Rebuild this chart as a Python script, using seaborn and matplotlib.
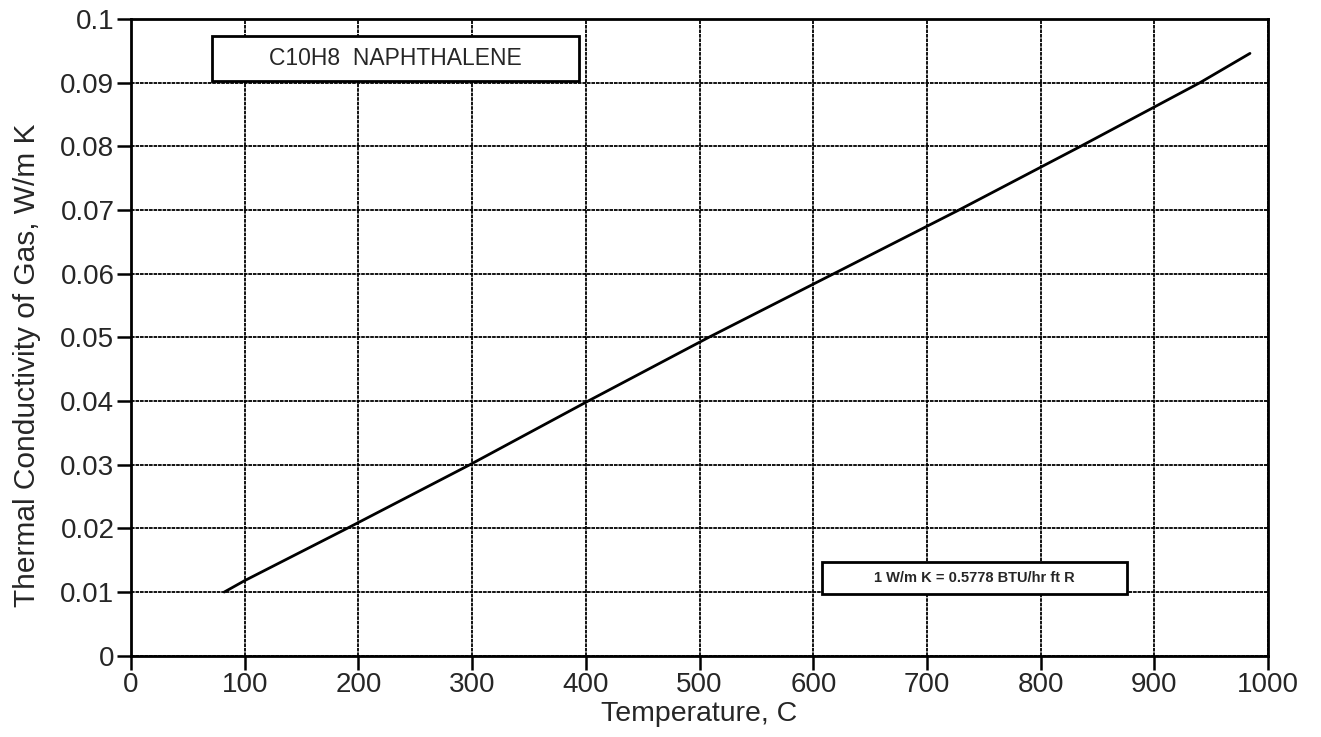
import numpy as np
import pandas as pd
import seaborn as sns
import matplotlib.pyplot as plt
from matplotlib.patches import Rectangle

# values
temp_c = [82, 100, 190, 298, 402, 508, 618, 728, 835, 940, 984]
k_gas = [0.0100, 0.0118, 0.0200, 0.0300, 0.0400, 0.0500, 0.0600, 0.0700, 0.0800, 0.0900, 0.0946]

x_ticks = list(range(0, 1001, 100))
y_ticks = [0, 0.01, 0.02, 0.03, 0.04, 0.05, 0.06, 0.07, 0.08, 0.09, 0.1]
y_labels = ["0", "0.01", "0.02", "0.03", "0.04", "0.05", "0.06", "0.07", "0.08", "0.09", "0.1"]

df = pd.DataFrame({"temp": temp_c, "k": k_gas})

sns.set_style("white")
plt.rcParams['font.family'] = ['Liberation Sans', 'DejaVu Sans']

fig = plt.figure(figsize=(13.21, 7.37), dpi=100)
ax = fig.add_axes([0.0992, 0.1103, 0.8608, 0.8639])

sns.lineplot(data=df, x="temp", y="k", color="black", linewidth=2.0, ax=ax)

ax.set_xlim(0, 1000)
ax.set_ylim(0, 0.1)
ax.set_xticks(x_ticks)
ax.set_yticks(y_ticks)
ax.set_yticklabels(y_labels)
ax.grid(True, color="black", linewidth=1.3, linestyle=(0, (2, 0.5)))
ax.set_axisbelow(True)
for s in ax.spines.values():
    s.set_color("black")
    s.set_linewidth(2.0)
ax.tick_params(axis="both", direction="out", length=10, width=1.8, color="black",
               labelsize=20, bottom=True, left=True, pad=2)
ax.set_xlabel("Temperature, C", fontsize=20.5, labelpad=2)
ax.set_ylabel("Thermal Conductivity of Gas, W/m K", fontsize=21.5)
ax.yaxis.set_label_coords(-0.079, 0.456)

# label boxes
ax.add_patch(Rectangle((71, 0.0902), 323, 0.0071, facecolor="white", edgecolor="black",
                       linewidth=2.0, zorder=5))
ax.text(232.5, 0.09375, "C10H8  NAPHTHALENE", ha="center", va="center", fontsize=16.5, zorder=6)
ax.add_patch(Rectangle((608, 0.0097), 268, 0.0050, facecolor="white", edgecolor="black",
                       linewidth=2.0, zorder=5))
ax.text(742, 0.0122, "1 W/m K = 0.5778 BTU/hr ft R", ha="center", va="center", fontsize=10.5,
        fontweight="bold", zorder=6)

fig.savefig("out.png", dpi=100)
